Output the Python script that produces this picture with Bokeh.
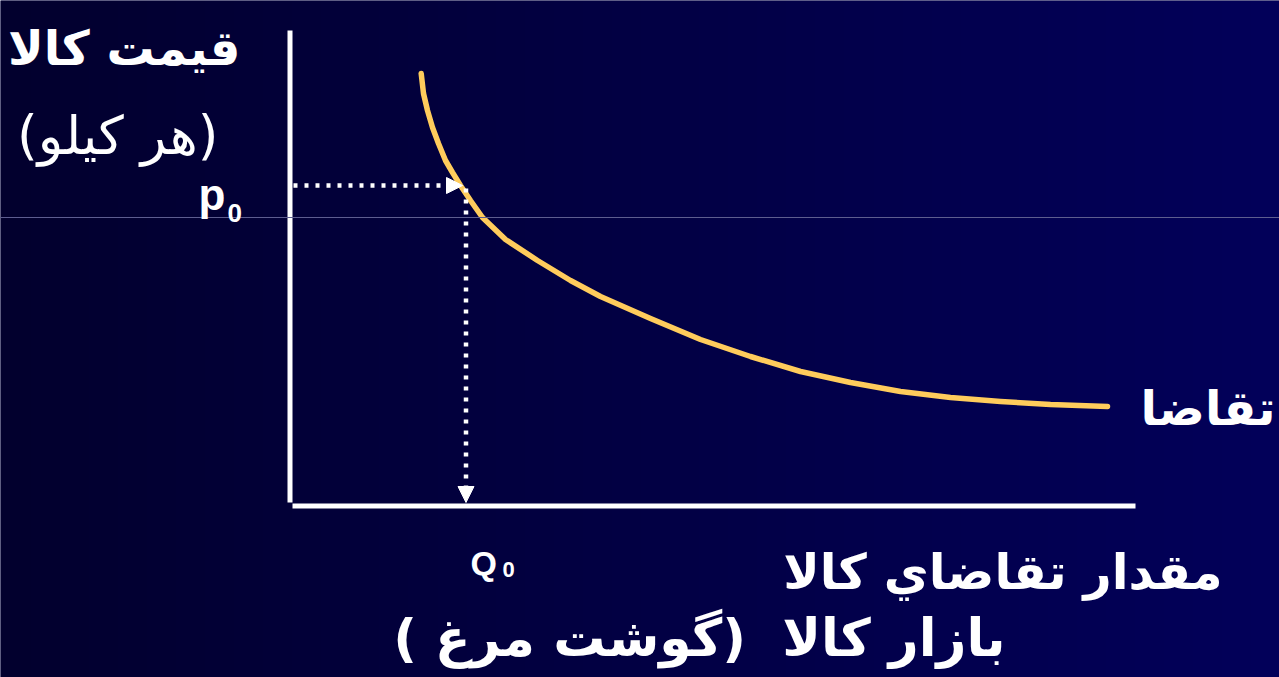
import numpy as np
from bokeh.plotting import figure
from bokeh.models import Range1d, Label, Arrow, NormalHead, Span
from bokeh.embed import file_html
from bokeh.resources import INLINE

# ---- data (chart units) ----
quantity = [13.07, 13.3, 13.7, 14.2, 14.8, 15.5, 16.2, 17.0, 18.0, 19.2,
            21.5, 24.7, 28.0, 31.0, 36.0, 41.0, 46.0, 51.0, 56.0, 61.0,
            66.0, 71.0, 76.0, 81.7]
price = [43.2, 41.2, 39.5, 37.8, 36.2, 34.5, 33.3, 32.0, 30.5, 28.8,
         26.6, 24.5, 22.5, 20.9, 18.7, 16.6, 14.9, 13.4, 12.3, 11.4,
         10.8, 10.4, 10.1, 9.9]
q0 = 17.55          # equilibrium quantity
p0 = 32.0           # equilibrium price
axis_q_max = 84.5   # length of quantity axis
axis_p_max = 47.5   # length of price axis
guide_level = 28.8  # thin horizontal guide line

RLM = "\u200f"
NBSP = "\u00a0"
title_y = "قيمت كالا"
unit_y = RLM + "(هر کيلو)" + RLM
label_curve = "تقاضا"
title_x1 = "مقدار تقاضاي كالا"
title_x2 = RLM + "بازار كالا" + NBSP + " (گوشت مرغ )" + RLM

# ---- figure ----
W, H = 1279, 677
x0, x1 = -29.0, 98.9
y0, y1 = -17.2, 50.5

p = figure(width=W, height=H, x_range=Range1d(x0, x1), y_range=Range1d(y0, y1),
           output_backend="svg", toolbar_location=None, min_border=0)
p.axis.visible = False
p.grid.visible = False
p.outline_line_color = None
p.background_fill_color = "#000040"
p.border_fill_color = "#000040"

# background gradient (dark navy to blue, left to right)
cols = np.arange(W)
blue = (46 + cols / 1279.0 * 44).astype(np.uint8)
img = np.zeros((2, W), dtype=np.uint32)
view = img.view(np.uint8).reshape((2, W, 4))
view[:, :, 0] = 2
view[:, :, 1] = 0
view[:, :, 2] = blue
view[:, :, 3] = 255
p.image_rgba(image=[img], x=x0, y=y0, dw=x1 - x0, dh=y1 - y0)

p.add_layout(Span(location=guide_level, dimension="width",
                  line_color="#5d5d8f", line_width=1))

# axes
p.segment(x0=[-0.05], y0=[0.3], x1=[-0.05], y1=[axis_p_max],
          line_color="white", line_width=5)
p.segment(x0=[0.2], y0=[-0.05], x1=[axis_q_max], y1=[-0.05],
          line_color="white", line_width=5)

# demand curve
p.line(quantity, price, line_color="#ffcc5c", line_width=5.5,
       line_cap="round", line_join="round")

# dotted guide arrows
head = dict(size=16, fill_color="white", line_color="white", line_width=1)
p.add_layout(Arrow(end=NormalHead(**head), x_start=0.3, y_start=p0,
                   x_end=q0 - 0.35, y_end=p0, line_color="white",
                   line_width=4.5, line_dash="4 7"))
p.add_layout(Arrow(end=NormalHead(**head), x_start=q0, y_start=p0 - 0.3,
                   x_end=q0, y_end=0.3, line_color="white",
                   line_width=4.5, line_dash="4 7"))

FA = "DejaVu Sans"
LA = "Liberation Sans"

def lab(x, y, text, size, font=FA, bold=True, align="right"):
    p.add_layout(Label(x=x, y=y, text=text, text_font=font,
                       text_font_size=size, text_color="white",
                       text_font_style="bold" if bold else "normal",
                       text_align=align, text_baseline="alphabetic"))

lab(-5.0, 45.8, title_y, "48px")
lab(-7.2, 37.0, unit_y, "53px", bold=False)
lab(-9.2, 31.1, "p", "44px", font=LA, align="left")
lab(-6.3, 29.3, "0", "26px", font=LA, align="left")
lab(18.0, -5.7, "Q", "34px", font=LA, align="left")
lab(21.2, -6.4, "0", "22px", font=LA, align="left")
lab(98.5, 9.8, label_curve, "48px")
lab(93.2, -6.7, title_x1, "49px")
lab(71.5, -13.2, title_x2, "52px")

open("out.html", "w").write(file_html(p, INLINE))
